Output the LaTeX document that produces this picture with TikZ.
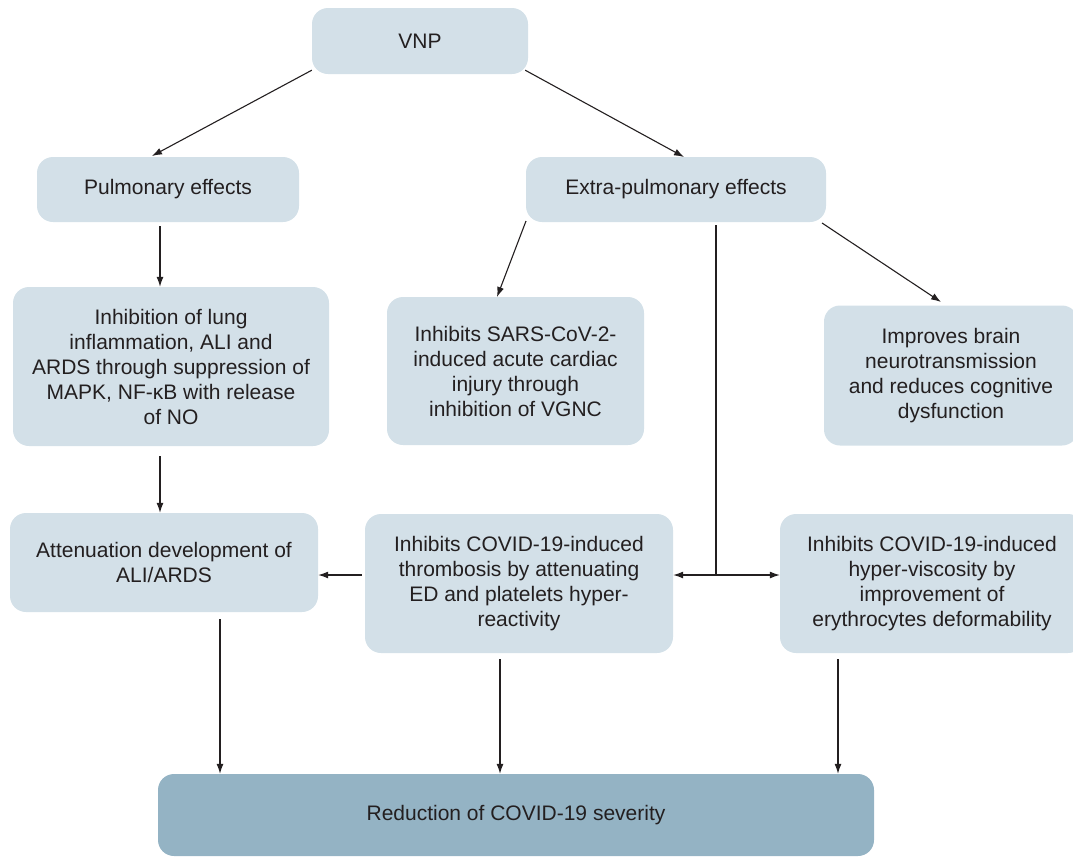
\documentclass[tikz,border=0pt]{standalone}
\usepackage{fontspec}
\setmainfont{Liberation Sans}
\usetikzlibrary{arrows.meta}
\definecolor{boxlight}{HTML}{D3E0E8}
\definecolor{boxdark}{HTML}{94B3C4}
\definecolor{txt}{HTML}{231F20}
\tikzset{
  box/.style={fill=boxlight, rounded corners=16pt, inner sep=0pt, align=center, text=txt, font=\fontsize{21}{25}\selectfont},
  darkbox/.style={box, fill=boxdark},
  arr/.style={draw=txt, line width=1.1pt, -{Latex[length=10pt,width=7pt]}},
  ln/.style={draw=txt, line width=1.1pt}
}
\begin{document}
\begin{tikzpicture}[x=1pt,y=-1pt]
\useasboundingbox (0,0) rectangle (1073,857);
\clip (0,0) rectangle (1073,857);
\node[box, minimum width=216pt, minimum height=66pt] (vnp) at (420,41) {VNP};
\node[box, minimum width=262pt, minimum height=65pt] (pulm) at (168,189.5) {Pulmonary effects};
\node[box, minimum width=300pt, minimum height=65pt] (extra) at (676,189.5) {Extra-pulmonary effects};
\node[box, minimum width=316pt, minimum height=159pt] (lung) at (171,366.5) {Inhibition of lung\\inflammation, ALI and\\ARDS through suppression of\\MAPK, NF-κB with release\\of NO};
\node[box, minimum width=257pt, minimum height=148pt] (sars) at (515.5,371) {Inhibits SARS-CoV-2-\\induced acute cardiac\\injury through\\inhibition of VGNC};
\node[box, minimum width=254pt, minimum height=140pt] (brain) at (951,375.5) {Improves brain\\neurotransmission\\and reduces cognitive\\dysfunction};
\node[box, minimum width=308pt, minimum height=99pt] (atten) at (164,562.5) {Attenuation development of\\ALI/ARDS};
\node[box, minimum width=308pt, minimum height=139pt] (thromb) at (519,583.5) {Inhibits COVID-19-induced\\thrombosis by attenuating\\ED and platelets hyper-\\reactivity};
\node[box, minimum width=304pt, minimum height=139pt] (visc) at (932,583.5) {Inhibits COVID-19-induced\\hyper-viscosity by\\improvement of\\erythrocytes deformability};
\node[darkbox, minimum width=716pt, minimum height=82pt] (red) at (516,815) {Reduction of COVID-19 severity};

\coordinate (j) at (716,575);
\draw[arr] (vnp.south west) ++(0,-4) -- (152,156);
\draw[arr] (vnp.south east) ++(-3,-4) -- (684,157);
\draw[arr] (160,226) -- (lung.north -| 160,0);
\draw[arr] (160,456) -- (atten.north -| 160,0);
\draw[arr] (526,221) -- (497,297);
\draw[arr] (822,223) -- (941,302);
\draw[ln] (716,225) -- (j);
\draw[arr] (j) -- (thromb.east |- j);
\draw[arr] (j) -- (visc.west |- j);
\draw[arr] (thromb.west |- j) ++(-3,0) -- (atten.east |- j);
\draw[arr] (220,619) -- (red.north -| 220,0);
\draw[arr] (500,659) -- (red.north -| 500,0);
\draw[arr] (838,659) -- (red.north -| 838,0);
\end{tikzpicture}
\end{document}
